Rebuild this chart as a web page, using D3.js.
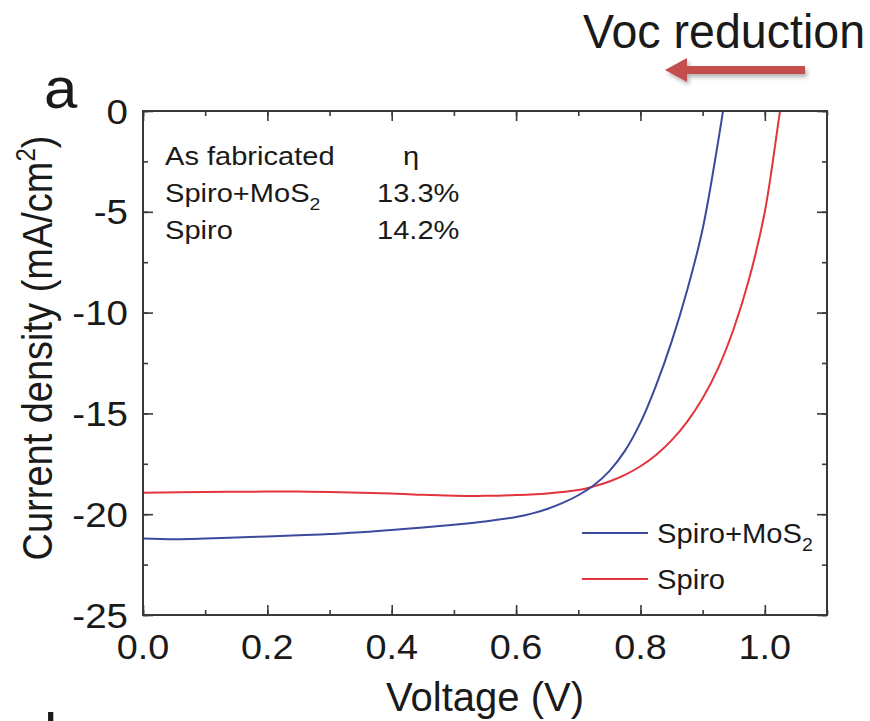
<!DOCTYPE html>
<html>
<head>
<meta charset="utf-8">
<script src="https://cdn.jsdelivr.net/npm/d3@7"></script>
<style>
  html, body { margin: 0; padding: 0; background: #fff; }
  svg { display: block; }
  text { font-family: "Liberation Sans", Arial, Helvetica, sans-serif; fill: #1a1a1a; }
</style>
</head>
<body>
<svg id="chart" width="870" height="721"></svg>
<script>
// ---- data ----
const xTicks = [0.0, 0.2, 0.4, 0.6, 0.8, 1.0];
const xTickLabels = ["0.0", "0.2", "0.4", "0.6", "0.8", "1.0"];
const yTicks = [0, -5, -10, -15, -20, -25];
const yTickLabels = ["0", "-5", "-10", "-15", "-20", "-25"];

const mosV = [0.00, 0.05, 0.10, 0.15, 0.20, 0.25, 0.30, 0.35, 0.40, 0.45, 0.50, 0.55, 0.60, 0.625, 0.65, 0.675, 0.70, 0.725, 0.75, 0.775, 0.80, 0.825, 0.85, 0.875, 0.90, 0.925, 0.95];
const mosJ = [-21.20, -21.24, -21.21, -21.16, -21.10, -21.05, -20.98, -20.90, -20.78, -20.66, -20.52, -20.36, -20.14, -19.97, -19.74, -19.44, -19.06, -18.56, -17.86, -16.86, -15.46, -13.62, -11.45, -8.90, -5.85, -1.50, 3.50];

const spiroV = [0.00, 0.10, 0.20, 0.25, 0.30, 0.40, 0.45, 0.50, 0.55, 0.60, 0.65, 0.70, 0.725, 0.75, 0.775, 0.80, 0.825, 0.85, 0.875, 0.90, 0.925, 0.95, 0.975, 1.00, 1.025, 1.05];
const spiroJ = [-18.93, -18.90, -18.88, -18.88, -18.90, -18.97, -19.04, -19.08, -19.09, -19.05, -18.97, -18.80, -18.62, -18.38, -18.05, -17.62, -17.06, -16.34, -15.42, -14.25, -12.75, -10.80, -8.30, -5.00, 0.10, 5.00];

const seriesNames = ["Spiro+MoS", "Spiro"];
const seriesColors = ["#3b4a9c", "#e2343c"];
const efficiencies = ["13.3%", "14.2%"];

// ---- layout ----
const svg = d3.select("#chart");
const L = 143, R = 827, T = 111, B = 615;
const x = d3.scaleLinear().domain([0, 1.1]).range([L, R]);
const y = d3.scaleLinear().domain([-25, 0]).range([B, T]);

const axisColor = "#3a3a3a";

const defs = svg.append("defs");
defs.append("clipPath").attr("id", "plotclip")
  .append("rect").attr("x", L).attr("y", T).attr("width", R - L).attr("height", B - T);

// ticks via d3 axes (inward)
function styleAxis(g) {
  g.select(".domain").remove();
  g.selectAll("line").attr("stroke", axisColor).attr("stroke-width", 1.6);
  g.selectAll("text").remove();
}
const xMinor = d3.range(0, 1.1001, 0.1);
const yMinor = d3.range(-25, 0.001, 2.5);

svg.append("g").attr("transform", `translate(0,${B})`)
  .call(d3.axisBottom(x).tickValues(xMinor).tickSize(-5).tickFormat("")).call(styleAxis);
svg.append("g").attr("transform", `translate(0,${B})`)
  .call(d3.axisBottom(x).tickValues(xTicks).tickSize(-10).tickFormat("")).call(styleAxis);
svg.append("g").attr("transform", `translate(0,${T})`)
  .call(d3.axisTop(x).tickValues(xMinor).tickSize(-5).tickFormat("")).call(styleAxis);
svg.append("g").attr("transform", `translate(0,${T})`)
  .call(d3.axisTop(x).tickValues(xTicks).tickSize(-10).tickFormat("")).call(styleAxis);
svg.append("g").attr("transform", `translate(${L},0)`)
  .call(d3.axisLeft(y).tickValues(yMinor).tickSize(-5).tickFormat("")).call(styleAxis);
svg.append("g").attr("transform", `translate(${L},0)`)
  .call(d3.axisLeft(y).tickValues(yTicks).tickSize(-10).tickFormat("")).call(styleAxis);
svg.append("g").attr("transform", `translate(${R},0)`)
  .call(d3.axisRight(y).tickValues(yMinor).tickSize(-5).tickFormat("")).call(styleAxis);
svg.append("g").attr("transform", `translate(${R},0)`)
  .call(d3.axisRight(y).tickValues(yTicks).tickSize(-10).tickFormat("")).call(styleAxis);

// curves
const line = d3.line().x(d => x(d[0])).y(d => y(d[1])).curve(d3.curveCatmullRom.alpha(0.5));
const mosData = mosV.map((v, i) => [v, mosJ[i]]);
const spiroData = spiroV.map((v, i) => [v, spiroJ[i]]);
const curves = svg.append("g").attr("clip-path", "url(#plotclip)");
curves.append("path").datum(spiroData).attr("d", line)
  .attr("fill", "none").attr("stroke", seriesColors[1]).attr("stroke-width", 2);
curves.append("path").datum(mosData).attr("d", line)
  .attr("fill", "none").attr("stroke", seriesColors[0]).attr("stroke-width", 2);

// frame
svg.append("rect").attr("x", L).attr("y", T).attr("width", R - L).attr("height", B - T)
  .attr("fill", "none").attr("stroke", axisColor).attr("stroke-width", 2);

// text helper with horizontal stretch
function txt(str, px, py, size, anchor, sx) {
  return svg.append("text")
    .attr("transform", `translate(${px},${py}) scale(${sx || 1},1)`)
    .attr("text-anchor", anchor || "start")
    .attr("font-size", size)
    .text(str);
}

// tick labels
xTicks.forEach((v, i) => txt(xTickLabels[i], x(v), 659, 35, "middle", 1.08));
yTicks.forEach((v, i) => txt(yTickLabels[i], 128, y(v) + 12.5, 35, "end", 1.1));

// axis titles
txt("Voltage (V)", (L + R) / 2, 711, 40, "middle", 1);
const yt = svg.append("text")
  .attr("transform", `translate(52,${(T + B) / 2 - 15}) rotate(-90) scale(1,1.12)`)
  .attr("text-anchor", "middle").attr("font-size", 38);
yt.append("tspan").text("Current density (mA/cm");
yt.append("tspan").attr("font-size", 24).attr("dy", -15).text("2");
yt.append("tspan").attr("dy", 15).text(")");

// panel letters
txt("a", 44, 108, 57, "start", 1.05);
txt("b", 44, 754, 57, "start", 1.05);

// annotation block
txt("As fabricated", 165, 165, 25.5, "start", 1.14);
txt("η", 403, 165, 25.5, "start", 1.14);
[0, 1].forEach(i => {
  const by = [202, 239][i];
  const t = svg.append("text")
    .attr("transform", `translate(165,${by}) scale(1.14,1)`)
    .attr("font-size", 25.5);
  t.append("tspan").text(seriesNames[i]);
  if (i === 0) t.append("tspan").attr("font-size", 17).attr("dy", 8).text("2");
  txt(efficiencies[i], 377, by, 25.5, "start", 1.14);
});

// legend
[0, 1].forEach(i => {
  const ly = [533, 579][i];
  svg.append("line").attr("x1", 582).attr("x2", 648).attr("y1", ly).attr("y2", ly)
    .attr("stroke", seriesColors[i]).attr("stroke-width", 2);
  const t = svg.append("text")
    .attr("transform", `translate(657,${ly + 10}) scale(1.08,1)`)
    .attr("font-size", 27);
  t.append("tspan").text(seriesNames[i]);
  if (i === 0) t.append("tspan").attr("font-size", 18).attr("dy", 8).text("2");
});

// Voc reduction annotation
txt("Voc reduction", 583, 48, 48, "start", 0.97);
const arrowColor = "#c24f4d";
const f = defs.append("filter").attr("id", "shadow").attr("x", "-20%").attr("y", "-50%").attr("width", "140%").attr("height", "200%");
f.append("feDropShadow").attr("dx", 2).attr("dy", 3).attr("stdDeviation", 2).attr("flood-color", "#000").attr("flood-opacity", 0.3);
const ay = 70;
svg.append("path")
  .attr("d", `M805,${ay - 4} L687,${ay - 4} L687,${ay - 12} L665,${ay} L687,${ay + 12} L687,${ay + 4} L805,${ay + 4} Z`)
  .attr("fill", arrowColor).attr("filter", "url(#shadow)");
</script>
</body>
</html>
